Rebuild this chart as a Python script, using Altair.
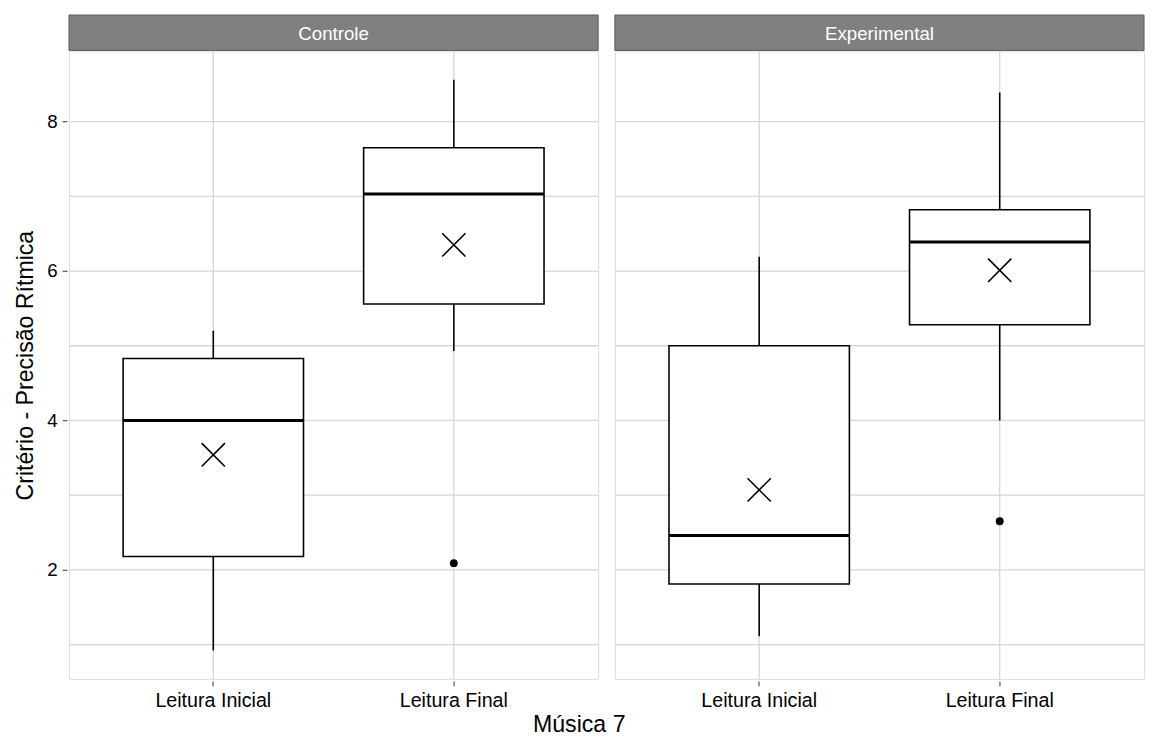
import altair as alt
import pandas as pd
import numpy as np

# ---- data ----
groups = ["Controle", "Controle", "Experimental", "Experimental"]
leituras = ["Leitura Inicial", "Leitura Final", "Leitura Inicial", "Leitura Final"]
whisker_low = [0.92, 4.93, 1.11, 4.00]
q1 = [2.18, 5.56, 1.81, 5.28]
median = [4.00, 7.03, 2.46, 6.39]
q3 = [4.83, 7.65, 5.00, 6.82]
whisker_high = [5.20, 8.56, 6.19, 8.39]
means = [3.54, 6.35, 3.07, 6.01]

out_groups = ["Controle", "Experimental"]
out_leituras = ["Leitura Final", "Leitura Final"]
out_values = [2.09, 2.65]

facet_names = ["Controle", "Experimental"]
x_order = ["Leitura Inicial", "Leitura Final"]
grid_y = [1, 2, 3, 4, 5, 6, 7, 8]
y_ticks = [2, 4, 6, 8]
y_domain = [0.54, 8.94]

# ---- combined table ----
rows = []
for g, l, lo, a, m, b, hi, mu in zip(groups, leituras, whisker_low, q1, median, q3, whisker_high, means):
    rows.append(dict(kind="box", group=g, leitura=l, lo=lo, q1=a, med=m, q3=b, hi=hi, mean=mu))
for g, l, v in zip(out_groups, out_leituras, out_values):
    rows.append(dict(kind="out", group=g, leitura=l, value=v))
for g in facet_names:
    rows.append(dict(kind="strip", group=g))
    for gy in grid_y:
        rows.append(dict(kind="grid", group=g, gy=gy))
df = pd.DataFrame(rows)

W = 538
H = 638
GRID = "#d6d6d6"
FONT = "Liberation Sans"

xscale = alt.Scale(domain=x_order, paddingInner=0, paddingOuter=0.1)
yscale = alt.Scale(domain=y_domain, nice=False, zero=False)

xenc = alt.X("leitura:N", scale=xscale, sort=x_order,
             axis=alt.Axis(title=None, labelAngle=0, labelFontSize=20, labelColor="black",
                           labelFont=FONT, domain=False, grid=False, tickColor="#333333",
                           tickSize=5, labelPadding=5))

base = alt.Chart()

ygrid = base.transform_filter("datum.kind == 'grid'").mark_rule(
    color=GRID, strokeWidth=1.3).encode(
    y=alt.Y("gy:Q", scale=yscale,
            axis=alt.Axis(values=y_ticks, format="d", title="Critério - Precisão Rítmica",
                          titleFontSize=23.5, titleFont=FONT, titleFontWeight="normal",
                          titleColor="black", labelFontSize=19, labelFont=FONT,
                          labelColor="black", grid=False, domain=False,
                          tickColor="#333333", tickSize=5, labelPadding=5, titlePadding=10)))

xgrid = base.transform_filter("datum.kind == 'box'").mark_rule(
    color=GRID, strokeWidth=1.3).encode(x=xenc)

whisk = base.transform_filter("datum.kind == 'box'").mark_rule(
    color="black", strokeWidth=1.6).encode(
    x=xenc, y=alt.Y("lo:Q", scale=yscale), y2="hi:Q")

box = base.transform_filter("datum.kind == 'box'").mark_bar(
    width={"band": 0.75}, fill="white", stroke="black", strokeWidth=1.6).encode(
    x=xenc, y=alt.Y("q1:Q", scale=yscale), y2="q3:Q")

med = base.transform_filter("datum.kind == 'box'").mark_tick(
    color="black", thickness=3, opacity=1, size=0.75 * W / 2.2).encode(
    x=xenc, y=alt.Y("med:Q", scale=yscale))

mean_pt = base.transform_filter("datum.kind == 'box'").mark_point(
    shape="M-1,-1L1,1M-1,1L1,-1", filled=False, stroke="black", strokeWidth=1.6,
    size=560, opacity=1).encode(
    x=xenc, y=alt.Y("mean:Q", scale=yscale))

outl = base.transform_filter("datum.kind == 'out'").mark_circle(
    color="black", size=64, opacity=1).encode(
    x=xenc, y=alt.Y("value:Q", scale=yscale))

strip = base.transform_filter("datum.kind == 'strip'").mark_rect(
    fill="#808080", stroke="#5a5a5a", strokeWidth=1).encode(
    x=alt.value(0), x2=alt.value(W), y=alt.value(-37), y2=alt.value(-1))

strip_text = base.transform_filter("datum.kind == 'strip'").mark_text(
    color="white", fontSize=19, font=FONT).encode(
    text="group:N", x=alt.value(W / 2), y=alt.value(-18))

layered = alt.layer(ygrid, xgrid, whisk, box, med, mean_pt, outl, strip, strip_text).properties(
    width=W, height=H)

chart = alt.FacetChart(
    data=df,
    spec=layered,
    facet=alt.FacetMapping(column=alt.Facet("group:N", sort=facet_names,
                                            header=alt.Header(labels=False, title=None,
                                                              labelPadding=0))),
    spacing=13,
).properties(
    title=alt.TitleParams("Música 7", orient="bottom", anchor="middle", fontSize=23.5,
                          font=FONT, fontWeight="normal", color="black", offset=3),
    padding={"left": 5, "top": 0, "right": 0, "bottom": 0},
).configure_view(
    stroke="#7a7a7a", strokeWidth=1.6
).configure(background="white")

chart.save("out.html", embed_options={"renderer": "svg", "actions": False})
